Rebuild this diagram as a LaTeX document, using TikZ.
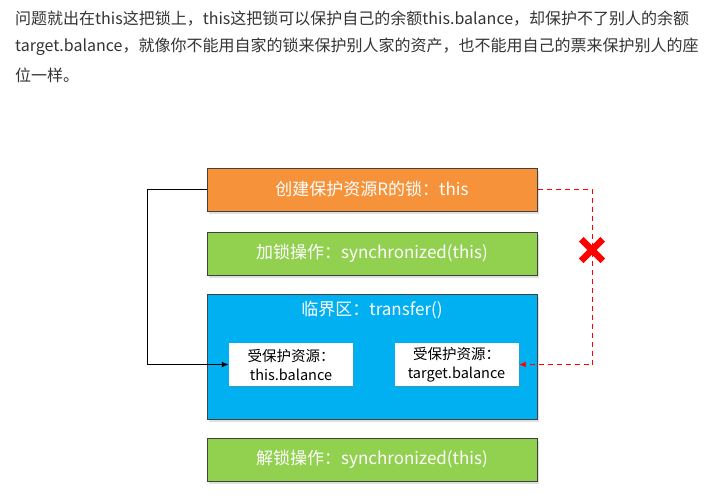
\documentclass[tikz,border=0pt]{standalone}
\usepackage{fontspec}
\newfontfamily\cjk{Noto Sans CJK SC}
\usetikzlibrary{arrows.meta, positioning, shapes.misc, shadows}
\definecolor{textGray}{HTML}{333333}
\definecolor{lockOrange}{HTML}{F5923A}
\definecolor{opGreen}{HTML}{92D050}
\definecolor{critBlue}{HTML}{00B0F0}
\definecolor{boxBorder}{HTML}{404040}
\definecolor{alertRed}{HTML}{FF0000}
\tikzset{
    % Text
    paraText/.style={anchor=west, inner sep=0pt, text=textGray, font=\cjk\fontsize{16}{18}\selectfont},
    % Boxes
    stepBox/.style={rectangle, draw=boxBorder, line width=1pt, minimum width=330pt, minimum height=43pt,
        inner sep=0pt, text=white, font=\cjk\fontsize{17}{20}\selectfont,
        drop shadow={opacity=0.25, shadow xshift=1.5pt, shadow yshift=-3pt}},
    resBox/.style={rectangle, draw=none, fill=white, minimum width=124pt, minimum height=43pt, inner sep=0pt,
        align=center, font=\cjk\fontsize{14.5}{19}\selectfont,
        drop shadow={opacity=0.25, shadow xshift=1pt, shadow yshift=-2pt}},
    % Connectors
    lockLine/.style={-{Latex[length=7pt,width=6pt]}, line width=1.6pt, draw=black},
    failLine/.style={-{Latex[length=7pt,width=6pt]}, line width=1.6pt, draw=alertRed, dash pattern=on 5pt off 4pt},
    failMark/.style={cross out, draw=alertRed, line width=6.5pt, minimum size=15pt, inner sep=0pt}
}
\begin{document}
\begin{tikzpicture}[x=1pt, y=-1pt]
    \useasboundingbox (0,0) rectangle (724,504);

    % Paragraph
    \node[paraText] (lineA) at (15,19) {问题就出在this这把锁上，this这把锁可以保护自己的余额this.balance，却保护不了别人的余额};
    \node[paraText] (lineB) at (15,47) {target.balance，就像你不能用自家的锁来保护别人家的资产，也不能用自己的票来保护别人的座};
    \node[paraText] (lineC) at (15,75) {位一样。};

    % Steps
    \node[stepBox, fill=lockOrange] (create) at (372,189.5) {创建保护资源R的锁：this};
    \node[stepBox, fill=opGreen] (lock) at (372,253.5) {加锁操作：synchronized(this)};
    \node[stepBox, fill=critBlue, minimum height=125pt] (crit) at (372,356.5) {};
    \node[text=white, font=\cjk\fontsize{17}{20}\selectfont, below=4pt of crit.north] (critTitle) {临界区：transfer()};
    \node[stepBox, fill=opGreen] (unlock) at (372,459.5) {解锁操作：synchronized(this)};

    % Resources
    \node[resBox] (thisRes) at (291,364.5) {受保护资源：\\this.balance};
    \node[resBox] (targetRes) at (456.5,364.5) {受保护资源：\\target.balance};

    % The lock
    \draw[lockLine] (create.west) -- ++(-59,0) |- (thisRes.west);
    \draw[failLine] (create.east) -- ++(55,0) |- (targetRes.east);
    \node[failMark] (failX) at (592,250) {};
\end{tikzpicture}
\end{document}
